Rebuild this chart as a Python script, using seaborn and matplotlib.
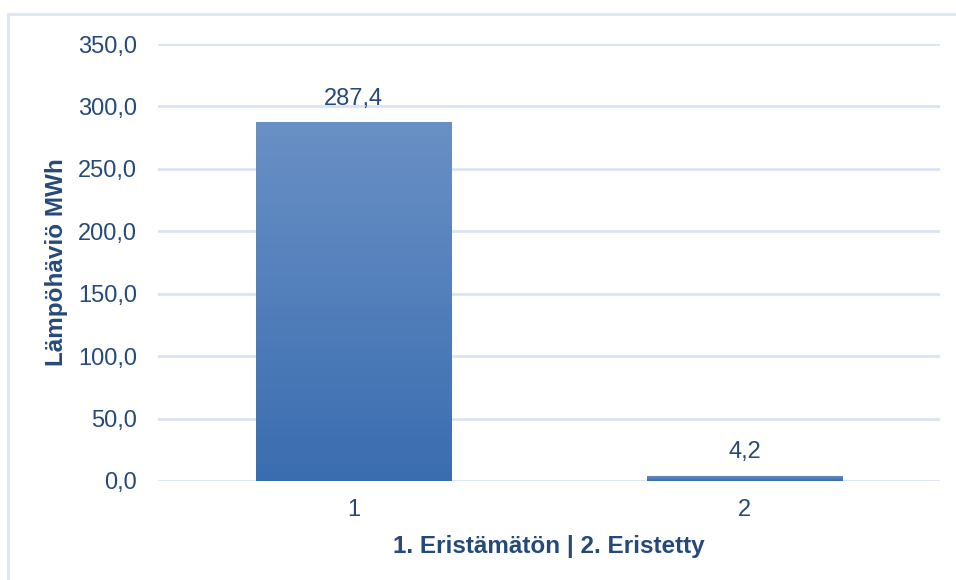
import numpy as np
import pandas as pd
import matplotlib
matplotlib.use("Agg")
import matplotlib.pyplot as plt
import seaborn as sns
from matplotlib.ticker import FuncFormatter, MultipleLocator
from matplotlib.patches import Rectangle

# Datos
kategoriat = ["1", "2"]
lampohavio = [287.4, 4.2]
x_otsikko = "1. Eristämätön | 2. Eristetty"
y_otsikko = "Lämpöhäviö MWh"

sns.set_theme(style="white")
plt.rcParams['font.family'] = ['Liberation Sans', 'DejaVu Sans']

TEKSTI = "#254A7A"
RUUDUKKO = "#D9E4F1"

df = pd.DataFrame({"kategoria": kategoriat, "arvo": lampohavio})

fig = plt.figure(figsize=(9.56, 5.8), dpi=100)
ax = fig.add_axes([158 / 956, 99 / 580, 782 / 956, 437 / 580])

sns.barplot(data=df, x="kategoria", y="arvo", width=0.5, color="#4A7EBF",
            ax=ax, zorder=3)

# Liukuväri pylväisiin
gradientti = matplotlib.colors.LinearSegmentedColormap.from_list(
    "g", ["#3A6DB0", "#6A90C5"])
for p in ax.patches:
    x0, y0 = p.get_x(), p.get_y()
    w, h = p.get_width(), p.get_height()
    im = ax.imshow(np.linspace(0, 1, 256).reshape(-1, 1), cmap=gradientti,
                   origin="lower", aspect="auto",
                   extent=[x0, x0 + w, y0, y0 + h], zorder=4)
    im.set_clip_path(p)
    p.set_edgecolor("none")

ax.set_xlim(-0.5, 1.5)
ax.set_ylim(0, 350)
ax.yaxis.set_major_locator(MultipleLocator(50))
ax.yaxis.set_major_formatter(FuncFormatter(lambda v, _: f"{v:.1f}".replace(".", ",")))

ax.grid(axis="y", color=RUUDUKKO, linewidth=2, zorder=0)
ax.set_axisbelow(True)
for s in ax.spines.values():
    s.set_visible(False)

ax.tick_params(axis="both", length=0, labelsize=17, colors=TEKSTI)
ax.tick_params(axis="y", pad=15)
ax.tick_params(axis="x", pad=13)

for i, v in enumerate(lampohavio):
    ax.text(i, v + 10, f"{v:.1f}".replace(".", ","), ha="center", va="bottom",
            fontsize=17, color=TEKSTI, zorder=5)

ax.set_xlabel(x_otsikko, fontsize=17.5, fontweight="bold", color=TEKSTI, labelpad=10)
ax.set_ylabel(y_otsikko, fontsize=17.5, fontweight="bold", color=TEKSTI, labelpad=7)

# Kehys
fig.patches.append(Rectangle((8 / 956, -0.1), 2, (580 - 14) / 580 + 0.1,
                             transform=fig.transFigure, fill=False,
                             edgecolor="#DAE6F3", linewidth=2))

plt.savefig("out.png", dpi=100)
